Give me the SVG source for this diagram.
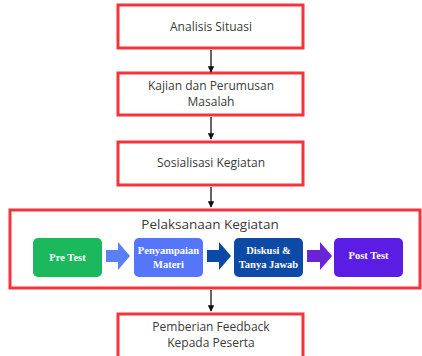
<svg xmlns="http://www.w3.org/2000/svg" width="422" height="356" viewBox="0 0 422 356">
<defs>
<style>
.box{fill:#fff;stroke:#f5333b;stroke-width:3}
.t{font-family:"Open Sans","Liberation Sans",sans-serif;font-size:12px;fill:#3a3a3a;text-anchor:middle}
.w{font-family:"Liberation Serif",serif;font-weight:bold;font-size:10.5px;fill:#fff;text-anchor:middle}
.ln{stroke:#111;stroke-width:1.3;fill:none}
</style>
<marker id="ah" viewBox="0 0 10 10" refX="9" refY="5" markerWidth="5" markerHeight="5" orient="auto"><path d="M0,0 L10,5 L0,10 z" fill="#111"/></marker>
</defs>
<rect width="422" height="356" fill="#fff"/>
<g id="n1"><rect class="box" x="118" y="5" width="185" height="43"/><text class="t" x="211" y="31">Analisis Situasi</text></g>
<g id="n2"><rect class="box" x="118" y="73" width="185" height="42"/><text class="t" x="211" y="90">Kajian dan Perumusan</text><text class="t" x="211" y="106">Masalah</text></g>
<g id="n3"><rect class="box" x="118" y="142" width="185" height="43"/><text class="t" x="211" y="167">Sosialisasi Kegiatan</text></g>
<g id="n4"><rect class="box" x="10" y="210" width="410" height="78"/><text class="t" x="210" y="229" style="font-size:13.5px">Pelaksanaan Kegiatan</text></g>
<g id="pre"><rect x="33" y="238" width="69" height="39" rx="5" fill="#1cb85e"/><text class="w" x="67.5" y="261">Pre Test</text></g>
<g id="materi"><rect x="134" y="238" width="69" height="39" rx="5" fill="#5676f9"/><text class="w" x="168.5" y="254">Penyampaian</text><text class="w" x="168.5" y="268">Materi</text></g>
<g id="diskusi"><rect x="234" y="238" width="69" height="39" rx="5" fill="#0c4aa6"/><text class="w" x="268.5" y="254">Diskusi &amp;</text><text class="w" x="268.5" y="268">Tanya Jawab</text></g>
<g id="post"><rect x="334" y="238" width="69" height="39" rx="5" fill="#5b1de3"/><text class="w" x="368.5" y="259">Post Test</text></g>
<g id="n5"><rect class="box" x="118" y="314" width="185" height="50"/><text class="t" x="211" y="331">Pemberian Feedback</text><text class="t" x="211" y="347">Kepada Peserta</text></g>
<g id="connectors">
<line class="ln" x1="211" y1="50" x2="211" y2="72" marker-end="url(#ah)"/>
<line class="ln" x1="211" y1="117" x2="211" y2="139" marker-end="url(#ah)"/>
<line class="ln" x1="211" y1="187" x2="211" y2="207" marker-end="url(#ah)"/>
<line class="ln" x1="211" y1="290" x2="211" y2="311" marker-end="url(#ah)"/>
<path d="M106,250 H118 V242 L130,256 L118,270 V262 H106 z" fill="#5b7ff5"/>
<path d="M207,250 H219 V242 L231,256 L219,270 V262 H207 z" fill="#0d4aa8"/>
<path d="M307,250 H320 V242 L332,256 L320,270 V262 H307 z" fill="#6a24d8"/>
</g>
</svg>
